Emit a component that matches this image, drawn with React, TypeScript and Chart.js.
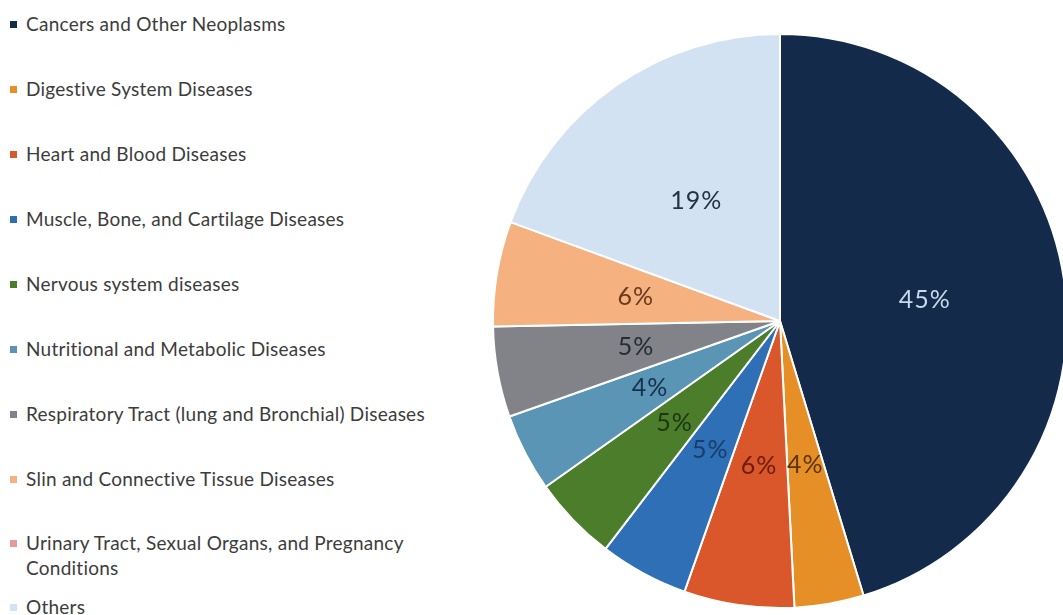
import React, { useEffect, useRef } from "react";
import { Chart, registerables } from "chart.js";

Chart.register(...registerables);

const categories: string[] = [
  "Cancers and Other Neoplasms",
  "Digestive System Diseases",
  "Heart and Blood Diseases",
  "Muscle, Bone, and Cartilage Diseases",
  "Nervous system diseases",
  "Nutritional and Metabolic Diseases",
  "Respiratory Tract (lung and Bronchial) Diseases",
  "Slin and Connective Tissue Diseases",
  "Urinary Tract, Sexual Organs, and Pregnancy Conditions",
  "Others",
];

const values: number[] = [45.3, 3.9, 6.2, 5.0, 4.8, 4.4, 5.1, 5.9, 0, 19.4];

const sliceColors: string[] = [
  "#132a4b",
  "#e68f27",
  "#d9572a",
  "#2f6fb6",
  "#4b7d2b",
  "#5b95b5",
  "#828289",
  "#f5b180",
  "#e79a9a",
  "#d2e2f2",
];

const labelColors: string[] = [
  "#c9d9ec",
  "#5a3508",
  "#6e1c0d",
  "#183c6c",
  "#1e3511",
  "#17304a",
  "#262b34",
  "#6a3a1b",
  "#6a2a2a",
  "#243244",
];

const FONT = "Lato, 'Open Sans', sans-serif";

const labelPlugin = {
  id: "sliceLabels",
  afterDatasetsDraw(chart: any) {
    const ctx = chart.ctx as CanvasRenderingContext2D;
    const meta = chart.getDatasetMeta(0);
    const data = chart.data.datasets[0].data as number[];
    const total = data.reduce((a, b) => a + b, 0);
    ctx.save();
    ctx.font = `25px ${FONT}`;
    (ctx as any).letterSpacing = "1px";
    ctx.textAlign = "center";
    ctx.textBaseline = "middle";
    meta.data.forEach((arc: any, i: number) => {
      const v = data[i];
      if (!v) return;
      const p = arc.getProps(["x", "y", "startAngle", "endAngle", "outerRadius"], true);
      const mid = (p.startAngle + p.endAngle) / 2;
      const r = p.outerRadius * 0.51;
      const x = p.x + Math.cos(mid) * r;
      const y = p.y + Math.sin(mid) * r;
      ctx.fillStyle = labelColors[i];
      ctx.fillText(`${Math.round((v / total) * 100)}%`, x, y);
    });
    ctx.restore();
  },
};

const legendTops: number[] = [11, 76, 141, 206, 271, 336, 401, 466, 530, 594];

export default function App() {
  const canvasRef = useRef<HTMLCanvasElement | null>(null);

  useEffect(() => {
    if (!canvasRef.current) return;
    const chart = new Chart(canvasRef.current, {
      type: "pie",
      data: {
        labels: categories,
        datasets: [
          {
            data: values,
            backgroundColor: sliceColors,
            borderColor: "#ffffff",
            borderWidth: 2,
          },
        ],
      },
      options: {
        animation: false,
        responsive: true,
        maintainAspectRatio: false,
        radius: 287,
        layout: { padding: 0 },
        plugins: {
          legend: { display: false },
          tooltip: { enabled: false },
        },
      },
      plugins: [labelPlugin],
    });
    return () => chart.destroy();
  }, []);

  return (
    <div
      style={{
        position: "fixed",
        left: 0,
        top: 0,
        width: 1063,
        height: 615,
        overflow: "hidden",
        background: "#ffffff",
      }}
    >
      <div
        style={{
          position: "absolute",
          left: 490,
          top: 31,
          width: 580,
          height: 580,
        }}
      >
        <canvas ref={canvasRef} />
      </div>
      {categories.map((c, i) => (
        <div
          key={c}
          style={{
            position: "absolute",
            left: 10,
            top: legendTops[i],
            width: 440,
            fontFamily: FONT,
            fontSize: 19,
            letterSpacing: "0.25px",
            lineHeight: "25px",
            color: "#3c3c3c",
            display: "flex",
            alignItems: "flex-start",
          }}
        >
          <span
            style={{
              display: "inline-block",
              width: 7,
              height: 7,
              marginTop: 10,
              marginRight: 9,
              flex: "0 0 auto",
              background: sliceColors[i],
            }}
          />
          <span>{c}</span>
        </div>
      ))}
    </div>
  );
}
